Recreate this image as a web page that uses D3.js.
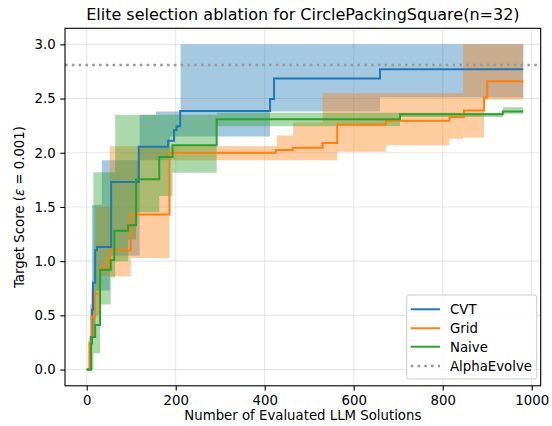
<!DOCTYPE html>
<html><head><meta charset="utf-8">
<script src="https://cdn.jsdelivr.net/npm/d3@7"></script>
<style>body{margin:0;background:#fff}svg{display:block}text{font-family:"DejaVu Sans",sans-serif}</style>
</head><body>
<script>
// ---- data ----
const titleText = "Elite selection ablation for CirclePackingSquare(n=32)";
const xTicks = [0, 200, 400, 600, 800, 1000];
const yTicks = [0.0, 0.5, 1.0, 1.5, 2.0, 2.5, 3.0];
const alphaEvolve = 2.81;

const cvtX = [0, 9, 12, 14, 19, 23, 55, 117, 183, 196, 202, 210, 412, 421, 659, 981];
const cvtY = [0, 0.3, 0.55, 0.8, 1.10, 1.13, 1.73, 2.055, 2.11, 2.21, 2.245, 2.385, 2.495, 2.686, 2.77, 2.77];
const cvtBandX = [0, 8, 12, 20, 34, 52, 64, 119, 156, 187, 211, 412, 659, 981];
const cvtLo = [0, 0.1, 0.3, 0.73, 0.73, 1.05, 1.05, 1.93, 1.93, 2.15, 2.15, 2.38, 2.51, 2.51];
const cvtHi = [0, 0.6, 1.52, 1.52, 1.93, 1.93, 1.93, 2.35, 2.38, 2.38, 3.0, 3.0, 3.0, 3.0];

const gridX = [0, 6, 11, 19, 30, 39, 45, 52, 99, 186, 425, 463, 530, 563, 672, 815, 848, 893, 900, 981];
const gridY = [0, 0.25, 0.49, 0.70, 0.94, 0.955, 1.02, 1.10, 1.43, 2.0, 2.025, 2.046, 2.09, 2.26, 2.295, 2.33, 2.39, 2.51, 2.66, 2.66];
const gridBandX = [0, 8, 10, 20, 30, 52, 99, 186, 427, 464, 530, 563, 672, 815, 846, 893, 981];
const gridLo = [0, 0.1, 0.3, 0.5, 0.86, 0.86, 1.03, 1.93, 1.93, 1.93, 1.93, 2.01, 2.07, 2.13, 2.14, 2.49, 2.49];
const gridHi = [0, 0.3, 0.74, 1.5, 1.5, 2.06, 2.06, 2.06, 2.16, 2.28, 2.55, 2.55, 2.55, 2.55, 3.0, 3.0, 3.0];

const naiveX = [0, 10, 12, 19, 30, 54, 62, 93, 111, 163, 193, 292, 704, 935, 981];
const naiveY = [0, 0.24, 0.3, 0.41, 0.92, 1.01, 1.28, 1.33, 1.755, 1.96, 2.07, 2.31, 2.354, 2.38, 2.38];
const naiveBandX = [0, 10, 15, 30, 54, 64, 93, 111, 163, 193, 292, 704, 935, 981];
const naiveLo = [0, 0, 0.15, 0.6, 0.85, 1.0, 1.2, 1.45, 1.6, 1.815, 2.245, 2.33, 2.36, 2.36];
const naiveHi = [0, 0.5, 1.82, 1.82, 1.82, 2.35, 2.35, 2.35, 2.35, 2.35, 2.37, 2.37, 2.42, 2.42];

const seriesNames = ["CVT", "Grid", "Naive"];
const colors = ["#1f77b4", "#ff7f0e", "#2ca02c"];

// ---- layout ----
const W = 552, H = 426;
const L = 65, R = 540.7, T = 28.3, B = 385.8;
const x = d3.scaleLinear().domain([-48.8, 1020.2]).range([L, R]);
const y = d3.scaleLinear().domain([-0.15, 3.148]).range([B, T]);
const FS = 13.3;

const svg = d3.select("body").append("svg").attr("width", W).attr("height", H);
svg.append("defs").append("clipPath").attr("id", "clip")
  .append("rect").attr("x", L).attr("y", T).attr("width", R - L).attr("height", B - T);

// grid
const g = svg.append("g");
g.selectAll(".gx").data(xTicks).enter().append("line")
  .attr("x1", d => x(d)).attr("x2", d => x(d)).attr("y1", T).attr("y2", B)
  .attr("stroke", "#b0b0b0").attr("stroke-opacity", 0.3).attr("stroke-width", 1.1);
g.selectAll(".gy").data(yTicks).enter().append("line")
  .attr("y1", d => y(d)).attr("y2", d => y(d)).attr("x1", L).attr("x2", R)
  .attr("stroke", "#b0b0b0").attr("stroke-opacity", 0.3).attr("stroke-width", 1.1);

const plot = svg.append("g").attr("clip-path", "url(#clip)");

const bands = [
  [cvtBandX, cvtLo, cvtHi],
  [gridBandX, gridLo, gridHi],
  [naiveBandX, naiveLo, naiveHi]
];
const lines = [[cvtX, cvtY], [gridX, gridY], [naiveX, naiveY]];

const area = d3.area().curve(d3.curveStepAfter)
  .x(d => x(d[0])).y0(d => y(d[1])).y1(d => y(d[2]));
const line = d3.line().curve(d3.curveStepAfter).x(d => x(d[0])).y(d => y(d[1]));

bands.forEach((b, i) => {
  const pts = b[0].map((v, k) => [v, b[1][k], b[2][k]]);
  plot.append("path").attr("d", area(pts)).attr("fill", colors[i]).attr("fill-opacity", 0.4);
});
lines.forEach((l, i) => {
  const pts = l[0].map((v, k) => [v, l[1][k]]);
  plot.append("path").attr("d", line(pts)).attr("fill", "none")
    .attr("stroke", colors[i]).attr("stroke-width", 2);
});
// AlphaEvolve
plot.append("line").attr("x1", L).attr("x2", R).attr("y1", y(alphaEvolve)).attr("y2", y(alphaEvolve))
  .attr("stroke", "#999").attr("stroke-width", 2.6).attr("stroke-dasharray", "2.6,4.2");

// frame
svg.append("rect").attr("x", L).attr("y", T).attr("width", R - L).attr("height", B - T)
  .attr("fill", "none").attr("stroke", "#000").attr("stroke-width", 1.1);

// axes
const xAxis = svg.append("g").attr("transform", `translate(0,${B})`)
  .call(d3.axisBottom(x).tickValues(xTicks).tickSize(4.7).tickPadding(4.7).tickFormat(d3.format("d")));
const yAxis = svg.append("g").attr("transform", `translate(${L},0)`)
  .call(d3.axisLeft(y).tickValues(yTicks).tickSize(4.7).tickPadding(4.7).tickFormat(d3.format(".1f")));
[xAxis, yAxis].forEach(a => {
  a.select(".domain").remove();
  a.selectAll("text").attr("font-size", FS).attr("fill", "#000").attr("font-family", "DejaVu Sans");
  a.selectAll("line").attr("stroke", "#000").attr("stroke-width", 1.1);
});

// titles
svg.append("text").attr("x", (L + R) / 2).attr("y", 20).attr("text-anchor", "middle")
  .attr("font-size", 16).text(titleText);
svg.append("text").attr("x", (L + R) / 2).attr("y", 420).attr("text-anchor", "middle")
  .attr("font-size", FS).text("Number of Evaluated LLM Solutions");
const yl = svg.append("text").attr("transform", `translate(24,${(T + B) / 2}) rotate(-90)`)
  .attr("text-anchor", "middle").attr("font-size", FS);
yl.append("tspan").text("Target Score (");
yl.append("tspan").attr("font-style", "italic").text("ε");
yl.append("tspan").text(" = 0.001)");

// legend
const lg = svg.append("g");
lg.append("rect").attr("x", 406.7).attr("y", 295).attr("width", 130).attr("height", 84).attr("rx", 2.5)
  .attr("fill", "#fff").attr("fill-opacity", 0.8).attr("stroke", "#ccc").attr("stroke-width", 1);
const entries = seriesNames.map((n, i) => ({ name: n, color: colors[i], dash: null }))
  .concat([{ name: "AlphaEvolve", color: "#999", dash: "2.6,4.2" }]);
const ly = [309.3, 328.3, 346.7, 366];
entries.forEach((e, i) => {
  const ln = lg.append("line").attr("x1", 410.7).attr("x2", 440).attr("y1", ly[i]).attr("y2", ly[i])
    .attr("stroke", e.color).attr("stroke-width", e.dash ? 2.6 : 2);
  if (e.dash) ln.attr("stroke-dasharray", e.dash);
  lg.append("text").attr("x", 450).attr("y", ly[i] + 4.8).attr("font-size", FS).text(e.name);
});
</script>
</body></html>
